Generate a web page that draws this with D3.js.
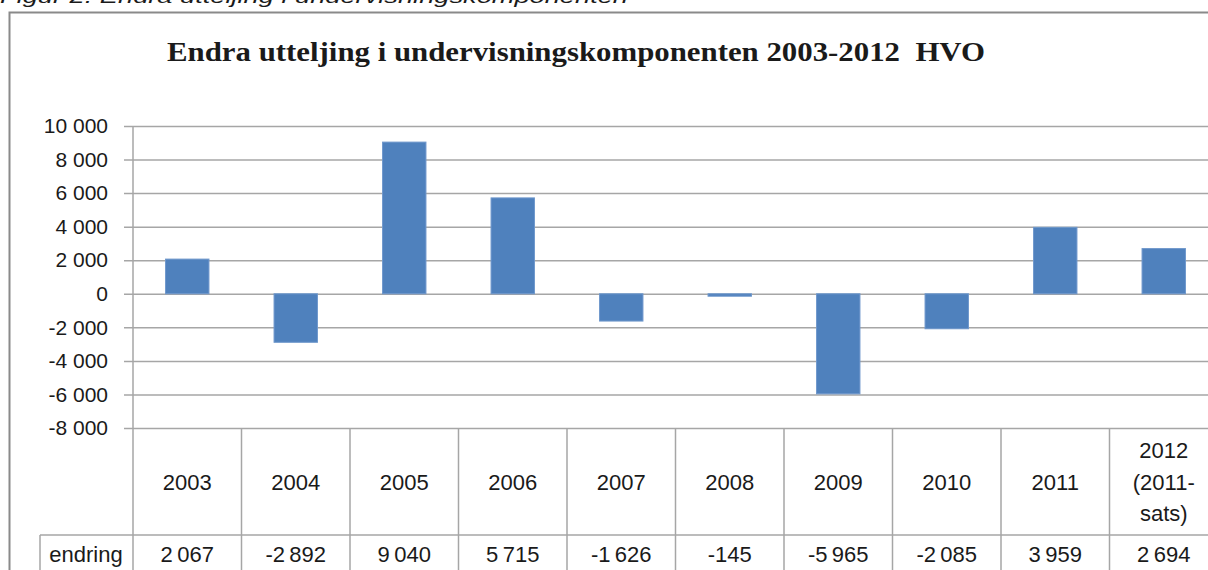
<!DOCTYPE html>
<html>
<head>
<meta charset="utf-8">
<script src="https://cdn.jsdelivr.net/npm/d3@7"></script>
<style>
  html, body { margin: 0; padding: 0; background: #fff; overflow: hidden; }
  text { fill: #1a1a1a; }
</style>
</head>
<body>
<div id="chart"></div>
<script>
var categories = ['2003', '2004', '2005', '2006', '2007', '2008', '2009', '2010', '2011', '2012|(2011-|sats)']
var values = [2067, -2892, 9040, 5715, -1626, -145, -5965, -2085, 3959, 2694]
var yTicks = [10000, 8000, 6000, 4000, 2000, 0, -2000, -4000, -6000, -8000]
var rowLabel = 'endring'
var title = 'Endra utteljing i undervisningskomponenten 2003-2012\u00a0 HVO'
var caption = 'Figur 2. Endra utteljing i undervisningskomponenten'

var width = 1208, height = 570
var sans = '"Liberation Sans", Arial, sans-serif'
var grid = '#a6a6a6'

var svg = d3.select('#chart').append('svg')
  .attr('width', width).attr('height', height)

var nb = d3.formatLocale({decimal: ',', thousands: '\u2009', grouping: [3], currency: ['', ''], minus: '-'})
var fmt = nb.format(',d')
var tickFmt = d3.formatLocale({decimal: ',', thousands: ' ', grouping: [3], currency: ['', ''], minus: '-'}).format(',d')

var x = d3.scaleBand().domain(categories).range([133, 1218])
var y = d3.scaleLinear().domain([-8000, 10000]).range([428, 126])

// caption, cut off at the top like the source
svg.append('text')
  .attr('x', 0).attr('y', 3)
  .attr('textLength', 628).attr('lengthAdjust', 'spacingAndGlyphs')
  .style('font', 'italic 19px ' + sans)
  .text(caption)

// chart frame
svg.append('path')
  .attr('d', 'M9.5,' + height + 'V12.5H' + width)
  .attr('fill', 'none').attr('stroke', '#8a8a8a').attr('stroke-width', 2)

svg.append('text')
  .attr('x', 167).attr('y', 61)
  .attr('textLength', 818).attr('lengthAdjust', 'spacingAndGlyphs')
  .style('font', 'bold 27px "Liberation Serif", "Times New Roman", serif')
  .text(title)

// gridlines + y axis labels
var yAxis = d3.axisLeft(y).tickValues(yTicks).tickFormat(tickFmt)
  .tickSize(-(width - 124)).tickPadding(16)
var ya = svg.append('g').attr('transform', 'translate(124,0)').call(yAxis)
ya.select('.domain').remove()
ya.selectAll('.tick line').attr('x1', 0).attr('x2', width - 124)
  .attr('stroke', grid).attr('stroke-width', 1.5)
ya.selectAll('.tick text').attr('fill', '#1a1a1a')
  .style('font', '21px ' + sans)

// bars
var bw = x.bandwidth() * 0.4
svg.selectAll('rect.bar').data(values).enter().append('rect')
  .attr('class', 'bar')
  .attr('x', function(d, i){ return x(categories[i]) + (x.bandwidth() - bw) / 2 })
  .attr('y', function(d){ return y(Math.max(0, d)) })
  .attr('width', bw)
  .attr('height', function(d){ return Math.abs(y(d) - y(0)) })
  .attr('fill', '#4f81bd').attr('stroke', '#6f98cc').attr('stroke-width', 1)

// data table
var tbl = svg.append('g')
var rowTop = 535
tbl.append('line').attr('x1', 133).attr('x2', 133).attr('y1', y(10000)).attr('y2', height)
  .attr('stroke', grid).attr('stroke-width', 1.5)
tbl.selectAll('line.col').data(categories).enter().append('line')
  .attr('x1', function(d){ return x(d) + x.bandwidth() }).attr('x2', function(d){ return x(d) + x.bandwidth() })
  .attr('y1', y(-8000)).attr('y2', height)
  .attr('stroke', grid).attr('stroke-width', 1.5)
tbl.append('line').attr('x1', 40).attr('x2', width).attr('y1', rowTop).attr('y2', rowTop)
  .attr('stroke', grid).attr('stroke-width', 1.5)
tbl.append('line').attr('x1', 40).attr('x2', 40).attr('y1', rowTop).attr('y2', height)
  .attr('stroke', grid).attr('stroke-width', 1.5)

tbl.selectAll('text.cat').data(categories).enter().append('text')
  .attr('class', 'cat')
  .attr('text-anchor', 'middle')
  .style('font', '22px ' + sans)
  .each(function(d){
    var lines = d.split('|')
    var cx = x(d) + x.bandwidth() / 2
    var t = d3.select(this)
    lines.forEach(function(l, j){
      t.append('tspan').attr('x', cx)
        .attr('y', 482 + (j - (lines.length - 1) / 2) * 31.5)
        .attr('dy', '0.36em')
        .text(l)
    })
  })

tbl.selectAll('text.val').data(values).enter().append('text')
  .attr('class', 'val')
  .attr('x', function(d, i){ return x(categories[i]) + x.bandwidth() / 2 })
  .attr('y', 554).attr('dy', '0.36em')
  .attr('text-anchor', 'middle')
  .style('font', '22px ' + sans)
  .text(fmt)

tbl.append('text').attr('x', 86).attr('y', 554).attr('dy', '0.36em')
  .attr('text-anchor', 'middle')
  .style('font', '22px ' + sans)
  .text(rowLabel)
</script>
</body>
</html>
